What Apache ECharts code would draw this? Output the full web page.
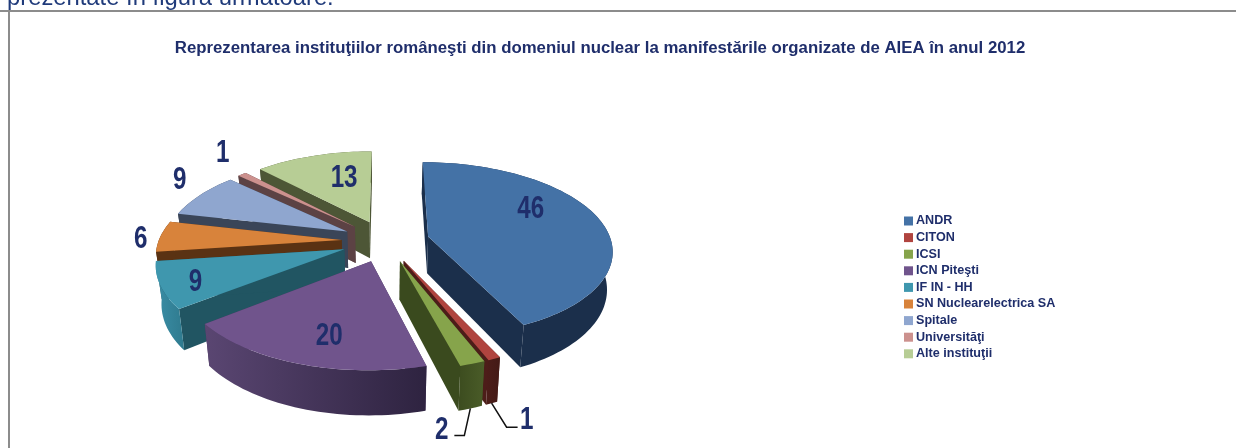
<!DOCTYPE html>
<html>
<head>
<meta charset="utf-8">
<style>
  html, body { margin: 0; padding: 0; background: #fff; }
  #chart { width: 1236px; height: 448px; }
</style>
<script src="https://cdn.jsdelivr.net/npm/echarts@6/dist/echarts.min.js"></script>
</head>
<body>
<div id="chart"></div>
<script>
// date
var categories = ['ANDR', 'CITON', 'ICSI', 'ICN Piteşti', 'IF IN - HH', 'SN Nuclearelectrica SA', 'Spitale', 'Universităţi', 'Alte instituţii'];
var values = [46, 1, 2, 20, 9, 6, 9, 1, 13];
var chartTitle = 'Reprezentarea instituţiilor româneşti din domeniul nuclear la manifestările organizate de AIEA în anul 2012';
var textAbove = 'prezentate în figura următoare.';

// culori: fata de sus, pereti, margine curba (stanga -> dreapta)
var topColors = ['#4472a6', '#b0443f', '#86a44b', '#70548c', '#3f97ae', '#d8833b', '#8fa6cf', '#cc918e', '#b7cd95'];
var wallColors = ['#1b2f4b', '#4d1d19', '#3a4a1e', '#4a3860', '#215562', '#5a3213', '#3a4558', '#5c4244', '#4d5636'];
var rimColors = [
  ['#1b2f4b', '#1b2f4b'], ['#4d1d19', '#431a16'], ['#3c4c1f', '#4a5c28'], ['#5a4672', '#2e2340'],
  ['#3a8ea6', '#2f7a8e'], ['#5a3213', '#5a3213'], ['#3a4558', '#3a4558'], ['#5c4244', '#5c4244'], ['#4d5636', '#4d5636']
];
// pozitia etichetelor fata de felie: deplasare in pixeli de la 60% din raza
var labelShift = [[-1, -16], [72, 104], [1, 112], [-1, 18], [-41, 12], [-92, 2], [-77, -29], [-62, -41], [10, -2]];
// linii de legatura pentru etichetele mici
var leaders = { 1: [[15, 24], [26, 24]], 2: [[-6, 27], [-16, 27]] };

// vedere 3d a placintei
var cx = 385.5, cy = 241, R = 183, explode = 44, depth = 37, squash = 0.472, persp = 0.0008;
var total = values.reduce(function (a, b) { return a + b; }, 0);

function project(X, Y, low) {
  var f = 1 / (1 - persp * Y);
  var x = X * f;
  var y = cy + Y * squash * f;
  if (low) {
    y += depth * f;
    x = x * 0.975;
  }
  return [cx + x, y];
}

function pointAt(ex, ey, ang, r, low) {
  return project(ex + r * Math.sin(ang), ey - r * Math.cos(ang), low);
}

var starts = [];
values.reduce(function (sum, v, i) { starts[i] = sum; return sum + v; }, 0);

// ordinea de desenare: de la felia din spate spre cea din fata
var ranks = values.map(function (v, i) {
  return -Math.cos((starts[i] + v / 2) / total * 2 * Math.PI);
});
function rankOf(i) {
  return ranks.filter(function (r) { return r < ranks[i]; }).length;
}

function renderSlice(idx) {
  return function (params, api) {
    var value = api.value(0), start = api.value(1);
    var a0 = start / total * 2 * Math.PI;
    var a1 = (start + value) / total * 2 * Math.PI;
    var mid = (a0 + a1) / 2;
    var ex = explode * Math.sin(mid), ey = -explode * Math.cos(mid);
    var z = rankOf(idx) * 10 + 1;

    var topArc = [], lowArc = [];
    var steps = Math.max(4, Math.ceil((a1 - a0) / 0.03));
    for (var s = 0; s <= steps; s++) {
      var a = a0 + (a1 - a0) * s / steps;
      topArc.push(pointAt(ex, ey, a, R, false));
      lowArc.push(pointAt(ex, ey, a, R, true));
    }
    var apex = pointAt(ex, ey, 0, 0, false);
    var apexLow = pointAt(ex, ey, 0, 0, true);

    var children = [];
    // peretii radiali
    children.push({ type: 'polygon', z2: z, shape: { points: [apex, topArc[0], lowArc[0], apexLow] }, style: { fill: wallColors[idx] } });
    children.push({ type: 'polygon', z2: z, shape: { points: [apex, topArc[steps], lowArc[steps], apexLow] }, style: { fill: wallColors[idx] } });
    // marginea curba
    var rimPts = topArc.concat(lowArc.slice().reverse());
    children.push({
      type: 'polygon', z2: z + 1, shape: { points: rimPts },
      style: {
        fill: new echarts.graphic.LinearGradient(0, 0, 1, 0, [
          { offset: 0, color: rimColors[idx][0] },
          { offset: 1, color: rimColors[idx][1] }
        ])
      }
    });
    // fata de sus
    children.push({ type: 'polygon', z2: z + 2, shape: { points: [apex].concat(topArc) }, style: { fill: topColors[idx] } });

    // eticheta
    var lp = pointAt(ex, ey, mid, R * 0.6, false);
    children.push({
      type: 'text', z2: 200, x: lp[0] + labelShift[idx][0], y: lp[1] + labelShift[idx][1], scaleX: 0.78,
      style: {
        text: String(value), align: 'center', verticalAlign: 'middle',
        fontFamily: 'Liberation Sans', fontWeight: 'bold', fontSize: 31, fill: '#1f2e6b'
      }
    });

    // linie de legatura
    if (leaders[idx]) {
      var p0 = pointAt(ex, ey, mid, R, true);
      var linePts = [p0].concat(leaders[idx].map(function (d) { return [p0[0] + d[0], p0[1] + d[1]]; }));
      children.push({ type: 'polyline', z2: 200, shape: { points: linePts }, style: { stroke: '#111', lineWidth: 1.5, fill: null } });
    }
    return { type: 'group', children: children };
  };
}

var series = categories.map(function (name, i) {
  return {
    type: 'custom',
    name: name,
    coordinateSystem: 'none',
    silent: true,
    animation: false,
    itemStyle: { color: topColors[i] },
    renderItem: renderSlice(i),
    data: [[values[i], starts[i]]]
  };
});

var chart = echarts.init(document.getElementById('chart'));
chart.setOption({
  backgroundColor: '#fff',
  animation: false,
  title: {
    text: chartTitle,
    left: 595,
    top: 35,
    textAlign: 'center',
    textStyle: { fontFamily: 'Liberation Sans', fontWeight: 'bold', fontSize: 16.8, color: '#1f2e6b' }
  },
  legend: {
    orient: 'vertical',
    left: 904,
    top: 214,
    icon: 'rect',
    itemWidth: 9,
    itemHeight: 9,
    itemGap: 2.6,
    padding: 0,
    selectedMode: false,
    data: categories,
    textStyle: {
      fontFamily: 'Liberation Sans', fontWeight: 'bold', fontSize: 12.6, color: '#1f2e6b',
      lineHeight: 14, padding: [0, 0, 0, -2]
    }
  },
  graphic: [
    { type: 'rect', shape: { x: 0, y: 10, width: 1236, height: 2 }, style: { fill: '#8c8c8c' }, silent: true },
    { type: 'rect', shape: { x: 8, y: 10, width: 2, height: 438 }, style: { fill: '#8c8c8c' }, silent: true },
    {
      type: 'text', x: 7, y: 10, silent: true,
      style: { text: textAbove, fontFamily: 'Liberation Sans', fontSize: 23.8, fill: '#1f3a7a', verticalAlign: 'bottom' }
    }
  ],
  series: series
});
</script>
</body>
</html>
